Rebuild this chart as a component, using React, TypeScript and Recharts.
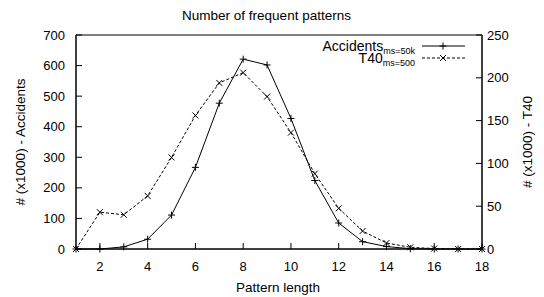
import { LineChart, Line, XAxis, YAxis, ReferenceArea, Legend } from 'recharts';

const lengths = [1, 2, 3, 4, 5, 6, 7, 8, 9, 10, 11, 12, 13, 14, 15, 16, 17, 18];
// # (x1000) frequent patterns
const accidents = [0, 0, 7, 32, 111, 267, 477, 621, 602, 427, 224, 85, 24, 8, 1, 0, 0, 0];
const t40 = [0, 43, 40, 62, 107, 156, 194, 206, 178, 136, 88, 47.5, 21, 7, 2, 0.5, 0, 0];

const xTicks = [2, 4, 6, 8, 10, 12, 14, 16, 18];
const leftTicks = [0, 100, 200, 300, 400, 500, 600, 700];
const rightTicks = [0, 50, 100, 150, 200, 250];

const data = lengths.map((len, i) => ({ len, accidents: accidents[i], t40: t40[i] }));

const FONT = '"Liberation Sans", Arial, Helvetica, sans-serif';
const tickStyle = { fontSize: 13, fill: '#000', fontFamily: FONT };

function PlusDot(props: any) {
  const { cx, cy } = props;
  if (cx == null || cy == null) return null;
  return <path d={`M${cx - 3.5},${cy}h7M${cx},${cy - 3.5}v7`} stroke="#000" strokeWidth={1} fill="none" />;
}

function CrossDot(props: any) {
  const { cx, cy } = props;
  if (cx == null || cy == null) return null;
  return (
    <path d={`M${cx - 3},${cy - 3}l6,6M${cx - 3},${cy + 3}l6,-6`} stroke="#000" strokeWidth={1} fill="none" />
  );
}

function AxisTitle({ px, py, text, rotate }: any) {
  return (
    <text
      x={px}
      y={py}
      transform={rotate ? `rotate(-90 ${px} ${py})` : undefined}
      textAnchor="middle"
      dominantBaseline="central"
      fontSize={13.5}
      fontFamily={FONT}
      fill="#000"
    >
      {text}
    </text>
  );
}

function LegendBox() {
  const rows = [
    { name: 'Accidents', sub: 'ms=50k', dash: undefined, Dot: PlusDot },
    { name: 'T40', sub: 'ms=500', dash: '3 2', Dot: CrossDot },
  ];
  return (
    <div style={{ fontFamily: FONT, fontSize: 14, color: '#000' }}>
      {rows.map((r) => (
        <div key={r.name} style={{ display: 'flex', justifyContent: 'flex-end', alignItems: 'center', height: 12 }}>
          <span style={{ whiteSpace: 'nowrap', lineHeight: '11px', height: 11 }}>
            {r.name}
            <span style={{ fontSize: 9, lineHeight: '6px', position: 'relative', top: 3 }}>{r.sub}</span>
          </span>
          <svg width={47} height={12} style={{ marginLeft: 5 }}>
            <line x1={2} y1={6} x2={45} y2={6} stroke="#000" strokeWidth={1} strokeDasharray={r.dash} />
            <r.Dot cx={23} cy={6} />
          </svg>
        </div>
      ))}
    </div>
  );
}

export default function App() {
  return (
    <div style={{ position: 'absolute', left: 0, top: 0, width: 544, height: 297, background: '#fff' }}>
      <div
        style={{
          position: 'absolute',
          left: 0,
          top: 8,
          width: 533,
          textAlign: 'center',
          fontFamily: FONT,
          fontSize: 13.5,
          lineHeight: '16px',
        }}
      >
        Number of frequent patterns
      </div>
      <LineChart width={544} height={297} data={data} margin={{ top: 35, right: 0, bottom: 0, left: 0 }}>
        <XAxis
          dataKey="len"
          type="number"
          domain={[1, 18]}
          ticks={xTicks}
          interval={0}
          height={48}
          tickSize={-6}
          tickMargin={19}
          tick={tickStyle}
          axisLine={{ stroke: '#000' }}
          tickLine={{ stroke: '#000' }}
          label={<AxisTitle px={278} py={287} text="Pattern length" />}
        />
        <YAxis
          yAxisId="left"
          orientation="left"
          domain={[0, 700]}
          ticks={leftTicks}
          interval={0}
          width={76}
          tickSize={-6}
          tickMargin={17}
          tick={tickStyle}
          axisLine={{ stroke: '#000' }}
          tickLine={{ stroke: '#000' }}
          label={<AxisTitle px={20} py={142} rotate text="# (x1000) - Accidents" />}
        />
        <YAxis
          yAxisId="right"
          orientation="right"
          domain={[0, 250]}
          ticks={rightTicks}
          interval={0}
          width={62}
          tickSize={-6}
          tickMargin={11}
          tick={tickStyle}
          axisLine={{ stroke: '#000' }}
          tickLine={{ stroke: '#000' }}
          label={<AxisTitle px={527} py={142} rotate text="# (x1000) - T40" />}
        />
        <ReferenceArea yAxisId="left" x1={1} x2={18} y1={0} y2={700} fill="none" stroke="#000" strokeWidth={1} ifOverflow="visible" />
        <Legend
          layout="horizontal"
          verticalAlign="middle"
          align="center"
          content={<LegendBox />}
          wrapperStyle={{ position: 'absolute', left: 250, top: 40, width: 217 }}
        />
        <Line
          yAxisId="left"
          dataKey="accidents"
          stroke="#000"
          strokeWidth={1}
          dot={<PlusDot />}
          activeDot={false}
          type="linear"
          isAnimationActive={false}
        />
        <Line
          yAxisId="right"
          dataKey="t40"
          stroke="#000"
          strokeWidth={1}
          strokeDasharray="3 2"
          dot={<CrossDot />}
          activeDot={false}
          type="linear"
          isAnimationActive={false}
        />
      </LineChart>
    </div>
  );
}
